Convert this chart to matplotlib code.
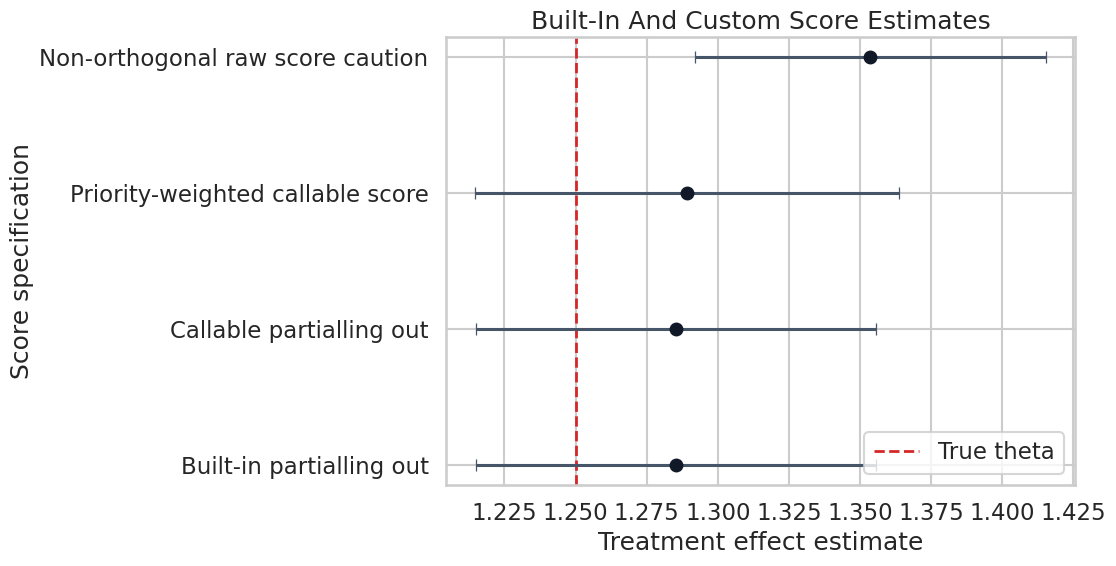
import matplotlib
matplotlib.use("Agg")
import matplotlib.pyplot as plt
import seaborn as sns
import numpy as np

sns.set_theme(style="whitegrid", context="talk")

labels = [
    "Built-in partialling out",
    "Callable partialling out",
    "Priority-weighted callable score",
    "Non-orthogonal raw score caution",
]
estimates = [1.2853, 1.2853, 1.2892, 1.3537]
ci_lower = [1.2150, 1.2150, 1.2145, 1.2919]
ci_upper = [1.3556, 1.3556, 1.3639, 1.4156]
true_theta = 1.25

est = np.array(estimates)
err = np.array([est - np.array(ci_lower), np.array(ci_upper) - est])
ypos = np.arange(len(labels))

fig, ax = plt.subplots(figsize=(11.16, 5.66), dpi=100)
ax.errorbar(est, ypos, xerr=err, fmt="o", color="#111827", ecolor="#475569",
            elinewidth=2.2, capsize=4, capthick=0.9, markersize=9, zorder=3)
ax.axvline(true_theta, color="#d62728", linestyle="--", linewidth=2, label="True theta")
ax.set_yticks(ypos)
ax.set_yticklabels(labels)
ax.set_xlabel("Treatment effect estimate")
ax.set_ylabel("Score specification")
ax.set_title("Built-In And Custom Score Estimates")
ax.legend(loc="lower right")

fig.subplots_adjust(left=0.3996, right=0.9633, top=0.9346, bottom=0.1431)
fig.savefig("out.png", dpi=100)
